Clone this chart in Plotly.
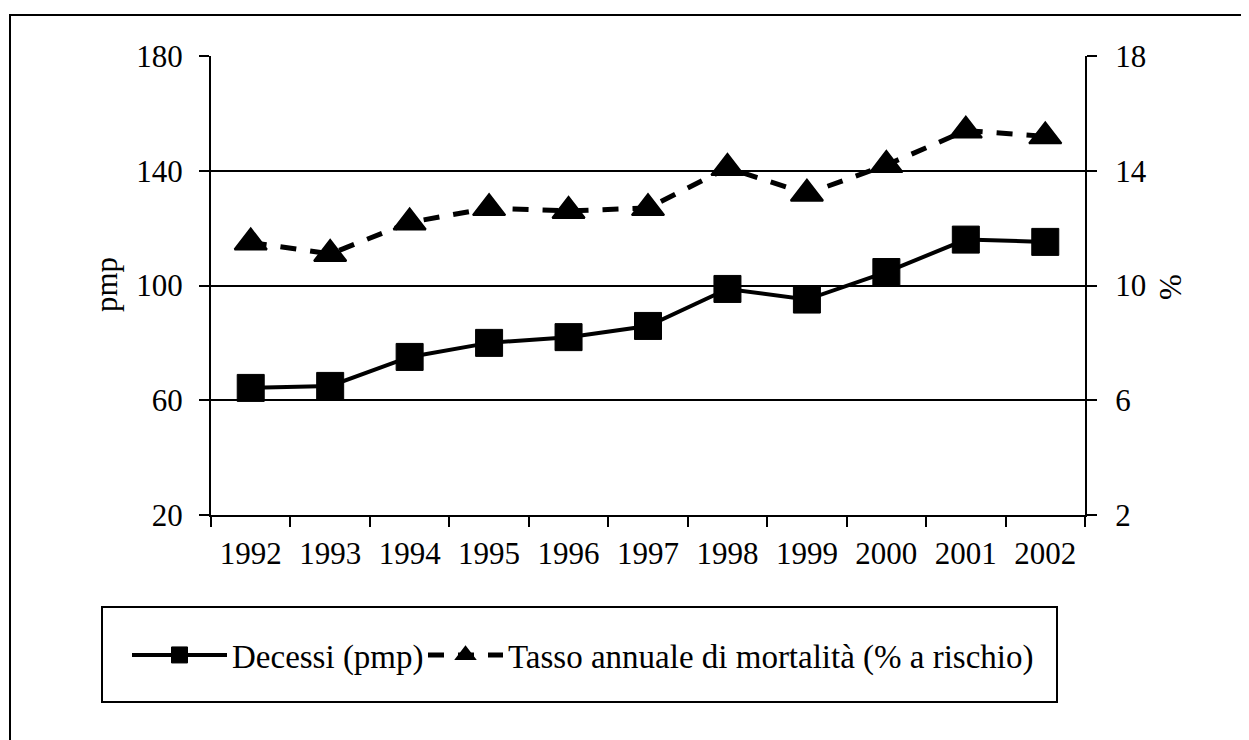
import plotly.graph_objects as go

# dati
anni = ["1992", "1993", "1994", "1995", "1996", "1997", "1998", "1999", "2000", "2001", "2002"]
decessi_pmp = [64.3, 65.0, 75.1, 80.0, 82.0, 85.9, 98.8, 95.1, 104.7, 116.0, 115.2]
tasso_mortalita = [11.5, 11.1, 12.2, 12.7, 12.6, 12.7, 14.1, 13.2, 14.2, 15.4, 15.2]

FONT = "Liberation Serif, Times New Roman, serif"
W, H = 1249, 740
OFF = 8  # margine del body html
# area del grafico in pixel di schermo
L, R, T, B = 211, 1085, 56, 515


def px_x(p):
    return (p - L) / (R - L)


def px_y(p):
    return (B - p) / (B - T)


fig = go.Figure()

fig.add_trace(go.Scatter(
    x=anni, y=decessi_pmp, name="Decessi (pmp)",
    mode="lines+markers", legend="legend",
    line=dict(color="black", width=4),
    marker=dict(symbol="square", size=27, color="black", line=dict(color="black", width=1)),
))

fig.add_trace(go.Scatter(
    x=anni, y=tasso_mortalita, name="Tasso annuale di mortalità (% a rischio)",
    mode="lines+markers", yaxis="y2", legend="legend2",
    line=dict(color="black", width=5, dash="16px,14px"),
    marker=dict(symbol="triangle-up", size=28, color="black", line=dict(color="black", width=2)),
))

tick_font = dict(family=FONT, size=31, color="black")
legend_font = dict(family=FONT, size=33, color="black")

fig.update_layout(
    width=W, height=H,
    margin=dict(l=L - OFF, r=W - (R - OFF), t=T - OFF, b=H - (B - OFF)),
    paper_bgcolor="white", plot_bgcolor="white",
    font=dict(family=FONT, size=31, color="black"),
    showlegend=True,
    legend=dict(
        orientation="h", x=px_x(127), y=px_y(655), xanchor="left", yanchor="middle",
        bgcolor="rgba(0,0,0,0)", borderwidth=0, font=legend_font, itemwidth=95,
    ),
    legend2=dict(
        orientation="h", x=px_x(423), y=px_y(655), xanchor="left", yanchor="middle",
        bgcolor="rgba(0,0,0,0)", borderwidth=0, font=legend_font, itemwidth=75,
    ),
    xaxis=dict(
        type="category", range=[-0.5, len(anni) - 0.5],
        tickson="boundaries", ticks="outside", ticklen=10,
        tickwidth=2, tickcolor="black", showline=True, linecolor="black", linewidth=2,
        showgrid=False, ticklabelstandoff=10, tickfont=tick_font,
    ),
    yaxis=dict(
        range=[20, 180], tickvals=[20, 60, 100, 140, 180],
        ticks="outside", ticklen=10, tickwidth=2, tickcolor="black",
        showline=True, linecolor="black", linewidth=2,
        showgrid=True, gridcolor="black", gridwidth=2, zeroline=False,
        ticklabelstandoff=10, tickfont=tick_font,
    ),
    yaxis2=dict(
        range=[2, 18], tickvals=[2, 6, 10, 14, 18], overlaying="y", side="right",
        ticks="outside", ticklen=10, tickwidth=2, tickcolor="black",
        showline=True, linecolor="black", linewidth=2,
        showgrid=False, zeroline=False, ticklabelstandoff=12, tickfont=tick_font,
    ),
    shapes=[
        # cornice esterna
        dict(type="rect", xref="paper", yref="paper",
             x0=px_x(10), x1=px_x(1300), y0=px_y(800), y1=px_y(15),
             line=dict(color="black", width=2), fillcolor="rgba(0,0,0,0)", layer="below"),
        # riquadro legenda
        dict(type="rect", xref="paper", yref="paper",
             x0=px_x(102), x1=px_x(1057), y0=px_y(702), y1=px_y(607),
             line=dict(color="black", width=2), fillcolor="rgba(0,0,0,0)"),
    ],
    annotations=[
        dict(text="pmp", xref="paper", yref="paper", x=px_x(106), y=px_y(285),
             xanchor="center", yanchor="middle",
             showarrow=False, textangle=-90, font=tick_font),
        dict(text="%", xref="paper", yref="paper", x=px_x(1170), y=px_y(287),
             xanchor="center", yanchor="middle",
             showarrow=False, textangle=-90, font=tick_font),
    ],
)

fig.write_html("out.html")
